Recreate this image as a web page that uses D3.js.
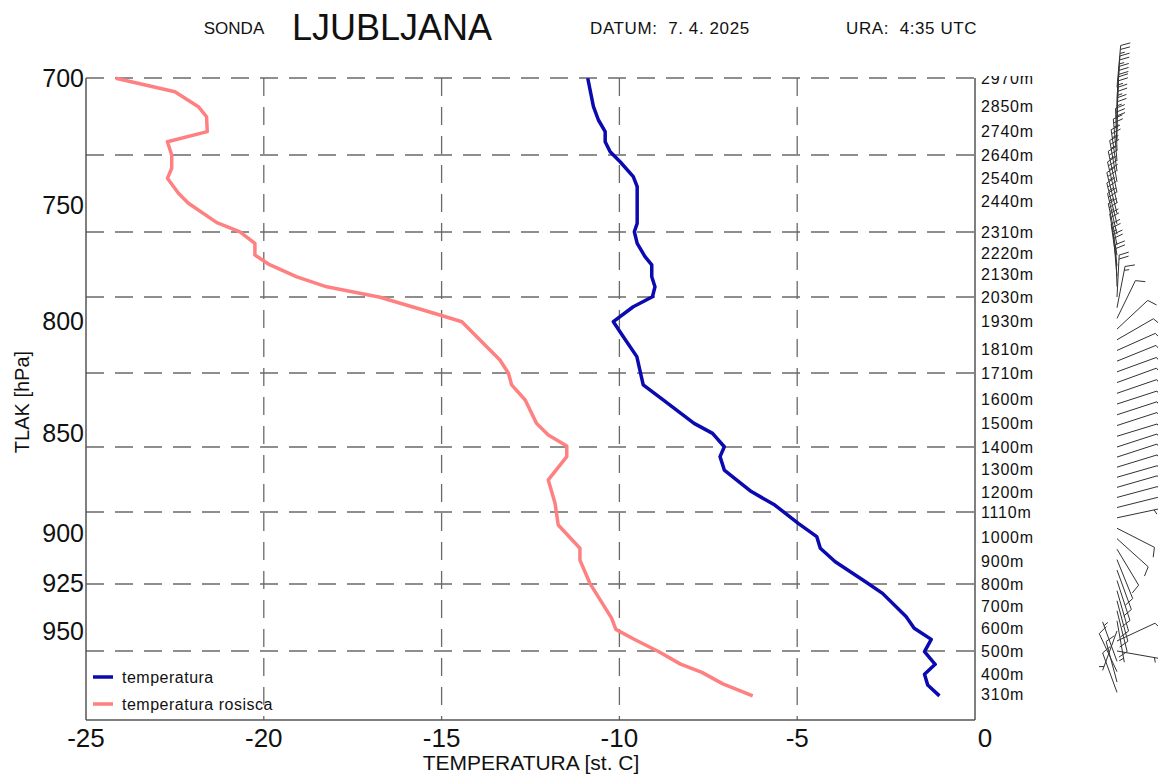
<!DOCTYPE html>
<html>
<head>
<meta charset="utf-8">
<script src="https://cdn.jsdelivr.net/npm/d3@7"></script>
<style>
  body { margin: 0; background: #fff; }
  svg { font-family: "Liberation Sans", Arial, sans-serif; }
</style>
</head>
<body>
<svg width="1158" height="774"></svg>
<script>
// Sounding data (height in m, temperature in st. C)
const tempHeights = [2969, 2847, 2790, 2740, 2697, 2654, 2611, 2547, 2504, 2347, 2311, 2261, 2204, 2168, 2117, 2074, 2031, 1989, 1926, 1863, 1779, 1660, 1597, 1499, 1457, 1401, 1357, 1297, 1260, 1201, 1141, 1061, 1004, 954, 896, 810, 758, 654, 602, 552, 497, 442, 399, 352, 305];
const tempValues = [-10.89, -10.73, -10.59, -10.40, -10.40, -10.26, -9.98, -9.61, -9.50, -9.50, -9.58, -9.50, -9.28, -9.09, -9.09, -9.00, -9.07, -9.61, -10.17, -9.89, -9.51, -9.33, -8.77, -7.90, -7.38, -7.05, -7.17, -7.05, -6.76, -6.29, -5.63, -4.97, -4.45, -4.35, -3.93, -3.08, -2.60, -1.94, -1.71, -1.23, -1.42, -1.12, -1.42, -1.33, -1.00];

const dewHeights = [2969, 2911, 2847, 2804, 2740, 2697, 2640, 2583, 2540, 2476, 2433, 2350, 2311, 2261, 2211, 2172, 2117, 2074, 2029, 1954, 1926, 1849, 1765, 1709, 1660, 1597, 1499, 1450, 1404, 1357, 1253, 1149, 1054, 954, 903, 803, 647, 597, 554, 497, 443, 407, 357, 305];
const dewValues = [-24.16, -22.50, -21.84, -21.61, -21.59, -22.71, -22.59, -22.59, -22.71, -22.40, -22.12, -21.32, -20.67, -20.25, -20.25, -19.87, -19.07, -18.23, -16.73, -15.05, -14.43, -13.92, -13.36, -13.12, -13.03, -12.65, -12.33, -12.00, -11.48, -11.48, -12.00, -11.81, -11.72, -11.11, -11.11, -10.83, -10.22, -10.10, -9.60, -8.89, -8.28, -7.68, -7.09, -6.25];

// Axis labels
const tempTicks = [-25, -20, -15, -10, -5, 0];
const pressureLabels = [700, 750, 800, 850, 900, 925, 950];
const pressureHeights = [2970, 2426, 1929, 1459, 1020, 804, 590];
const heightLabels = [2970, 2850, 2740, 2640, 2540, 2440, 2310, 2220, 2130, 2030, 1930, 1810, 1710, 1600, 1500, 1400, 1300, 1200, 1110, 1000, 900, 800, 700, 600, 500, 400, 310];
const gridHeights = [2970, 2640, 2310, 2030, 1710, 1400, 1110, 800, 500];
const gridTemps = [-20, -15, -10, -5];

// Wind (height m, direction deg, speed kt)
const windHeights = [2930, 2885, 2840, 2795, 2750, 2705, 2660, 2615, 2570, 2525, 2480, 2435, 2390, 2345, 2300, 2255, 2210, 2165, 2120, 2075, 2030, 1985, 1940, 1895, 1850, 1805, 1760, 1715, 1670, 1625, 1580, 1535, 1490, 1445, 1400, 1355, 1310, 1265, 1220, 1175, 1130, 1085, 1040, 995, 950, 905, 860, 815, 770, 725, 680, 635, 590, 545, 500, 455, 410, 365, 320];
const windDirs = [5, 4, 3, 2, 1, 0, 358, 355, 352, 350, 348, 347, 346, 346, 347, 348, 350, 352, 355, 358, 3, 11, 26, 47, 60, 66, 68, 70, 70, 71, 72, 72, 72, 73, 72, 72, 73, 74, 74, 75, 76, 78, 117, 132, 149, 158, 160, 162, 164, 165, 166, 170, 200, 65, 100, 340, 335, 345, 340];
const windSpeeds = [25, 25, 30, 25, 25, 25, 30, 25, 25, 25, 25, 30, 25, 25, 25, 25, 20, 25, 20, 20, 20, 15, 10, 10, 10, 10, 10, 10, 10, 10, 10, 10, 10, 10, 10, 10, 10, 10, 10, 10, 10, 5, 10, 10, 10, 10, 10, 10, 10, 10, 10, 5, 5, 10, 5, 5, 10, 10, 10];

// Chart constants
const svg = d3.select("svg");
const x = d3.scaleLinear().domain([-25, 0]).range([86, 975]);
// height axis is not quite even, so piecewise through the grid levels
const y = d3.scaleLinear()
    .domain([200, 500, 800, 1110, 1400, 1710, 2030, 2310, 2640, 2970])
    .range([720, 651, 584, 512, 447, 373, 297, 232, 155, 78]);

// Title
const title = svg.append("g").attr("fill", "#111");
title.append("text").attr("x", 234).attr("y", 34).attr("text-anchor", "middle").attr("font-size", 17).text("SONDA");
title.append("text").attr("x", 392).attr("y", 40).attr("text-anchor", "middle").attr("font-size", 36).text("LJUBLJANA");
title.append("text").attr("x", 590).attr("y", 34).attr("font-size", 17).attr("letter-spacing", "0.6px").attr("xml:space", "preserve").text("DATUM:  7. 4. 2025");
title.append("text").attr("x", 846).attr("y", 34).attr("font-size", 17).attr("letter-spacing", "0.6px").attr("xml:space", "preserve").text("URA:  4:35 UTC");

// Grid
const grid = svg.append("g")
    .attr("stroke", "#6a6a6a")
    .attr("stroke-width", 1.3)
    .attr("stroke-dasharray", "18,11");
grid.selectAll("line.h")
    .data(gridHeights)
    .enter()
    .append("line")
    .attr("class", "h")
    .attr("x1", x(-25)).attr("x2", x(0))
    .attr("y1", (d) => y(d)).attr("y2", (d) => y(d));
grid.selectAll("line.v")
    .data(gridTemps)
    .enter()
    .append("line")
    .attr("class", "v")
    .attr("x1", (d) => x(d)).attr("x2", (d) => x(d))
    .attr("y1", y(2970)).attr("y2", y(200));

// Axes frame
const frame = svg.append("g").attr("stroke", "#555").attr("stroke-width", 1.5);
frame.append("line").attr("x1", x(-25)).attr("x2", x(-25)).attr("y1", y(2970)).attr("y2", y(200));
frame.append("line").attr("x1", x(0)).attr("x2", x(0)).attr("y1", y(2970)).attr("y2", y(200));
frame.append("line").attr("x1", x(-25)).attr("x2", x(0)).attr("y1", y(200)).attr("y2", y(200));

// Bottom axis labels
svg.append("g")
    .selectAll("text")
    .data(tempTicks)
    .enter()
    .append("text")
    .attr("x", (d) => x(d) + (d === 0 ? 10 : 0))
    .attr("y", 747)
    .attr("text-anchor", "middle")
    .attr("font-size", 26)
    .attr("fill", "#111")
    .text((d) => d);

svg.append("text")
    .attr("x", 531).attr("y", 770)
    .attr("text-anchor", "middle")
    .attr("font-size", 21)
    .attr("fill", "#111")
    .text("TEMPERATURA [st. C]");

// Left axis labels (pressure)
svg.append("g")
    .selectAll("text")
    .data(pressureLabels)
    .enter()
    .append("text")
    .attr("x", 84)
    .attr("y", (d, i) => y(pressureHeights[i]))
    .attr("dy", "0.36em")
    .attr("text-anchor", "end")
    .attr("font-size", 25)
    .attr("fill", "#111")
    .text((d) => d);

svg.append("text")
    .attr("transform", "translate(29,402) rotate(-90)")
    .attr("text-anchor", "middle")
    .attr("font-size", 20)
    .attr("fill", "#111")
    .text("TLAK [hPa]");

// Right axis labels (height), top one clipped
svg.append("clipPath").attr("id", "rclip")
    .append("rect").attr("x", 976).attr("y", 76).attr("width", 80).attr("height", 660);
svg.append("g")
    .attr("clip-path", "url(#rclip)")
    .selectAll("text")
    .data(heightLabels)
    .enter()
    .append("text")
    .attr("x", 981)
    .attr("y", (d) => y(d))
    .attr("dy", "0.36em")
    .attr("font-size", 16)
    .attr("letter-spacing", "0.8px")
    .attr("fill", "#111")
    .text((d) => d + "m");

// Curves
const line = d3.line().x((d) => x(d[1])).y((d) => y(d[0]));
svg.append("path")
    .datum(dewHeights.map((h, i) => [h, dewValues[i]]))
    .attr("d", line)
    .attr("fill", "none")
    .attr("stroke", "#ff8080")
    .attr("stroke-width", 3.5)
    .attr("stroke-linejoin", "round");
svg.append("path")
    .datum(tempHeights.map((h, i) => [h, tempValues[i]]))
    .attr("d", line)
    .attr("fill", "none")
    .attr("stroke", "#0a0ab0")
    .attr("stroke-width", 3.5)
    .attr("stroke-linejoin", "round");

// Legend
const legend = [["temperatura", "#0a0ab0"], ["temperatura rosisca", "#ff8080"]];
const lg = svg.append("g");
legend.forEach((d, i) => {
    lg.append("line")
        .attr("x1", 93).attr("x2", 113)
        .attr("y1", 677 + i * 27).attr("y2", 677 + i * 27)
        .attr("stroke", d[1]).attr("stroke-width", 3.5);
    lg.append("text")
        .attr("x", 122).attr("y", 677 + i * 27)
        .attr("dy", "0.36em")
        .attr("font-size", 16)
        .attr("letter-spacing", "0.5px")
        .attr("fill", "#111")
        .text(d[0]);
});

// Wind barbs
const barbs = svg.append("g")
    .attr("stroke", "#333")
    .attr("stroke-width", 1)
    .attr("fill", "none");
const BX = 1117, STAFF = 42, FEATHER = 10, STEP = 4;
windHeights.forEach((h, i) => {
    const by = y(h);
    const a = windDirs[i] * Math.PI / 180;
    const ux = Math.sin(a), uy = -Math.cos(a);
    const tx = BX + STAFF * ux, ty = by + STAFF * uy;
    barbs.append("line").attr("x1", BX).attr("y1", by).attr("x2", tx).attr("y2", ty);
    const f = (windDirs[i] + 70) * Math.PI / 180;
    const fx = Math.sin(f), fy = -Math.cos(f);
    let full = Math.floor(windSpeeds[i] / 10);
    const half = windSpeeds[i] % 10 >= 5;
    let pos = 0;
    for (let k = 0; k < full; k++) {
        const sx = tx - pos * ux, sy = ty - pos * uy;
        barbs.append("line").attr("x1", sx).attr("y1", sy)
            .attr("x2", sx + FEATHER * fx).attr("y2", sy + FEATHER * fy);
        pos += STEP;
    }
    if (half) {
        if (full === 0) pos = STEP;
        const sx = tx - pos * ux, sy = ty - pos * uy;
        barbs.append("line").attr("x1", sx).attr("y1", sy)
            .attr("x2", sx + FEATHER / 2 * fx).attr("y2", sy + FEATHER / 2 * fy);
    }
});
</script>
</body>
</html>
